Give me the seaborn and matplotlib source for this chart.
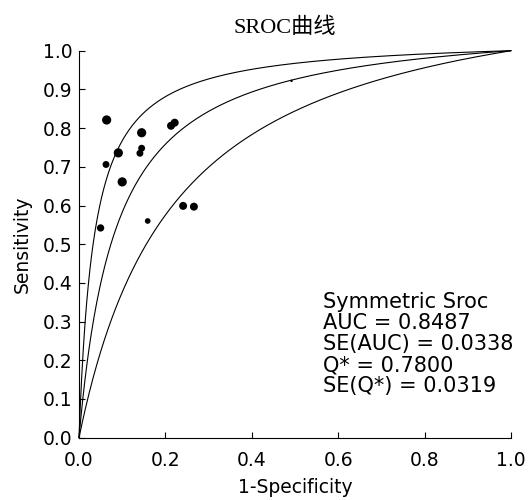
import numpy as np
import pandas as pd
import matplotlib
matplotlib.use("Agg")
import matplotlib.pyplot as plt
import seaborn as sns

# ---- data ----
fpr = [0.064, 0.145, 0.2215, 0.213, 0.091, 0.145, 0.141, 0.0625, 0.100,
       0.241, 0.266, 0.159, 0.050, 0.492]
sens = [0.821, 0.788, 0.814, 0.806, 0.736, 0.748, 0.735, 0.706, 0.661,
        0.599, 0.597, 0.560, 0.542, 0.922]
weights = [16, 16, 12, 12, 16, 9, 9, 9, 16, 12, 12, 6, 10, 1]

# SROC curve intercepts (logit(TPR) = a + logit(FPR)): lower, fitted, upper
curve_names = ["lower", "sroc", "upper"]
curve_a = [1.69, 2.53, 3.39]

x_ticks = [0.0, 0.2, 0.4, 0.6, 0.8, 1.0]
y_ticks = [0.0, 0.1, 0.2, 0.3, 0.4, 0.5, 0.6, 0.7, 0.8, 0.9, 1.0]
title = "SROC曲线"
x_label = "1-Specificity"
y_label = "Sensitivity"
stats_lines = ["Symmetric Sroc", "AUC = 0.8487", "SE(AUC) = 0.0338",
               "Q* = 0.7800", "SE(Q*) = 0.0319"]

# ---- build frames ----
pts = pd.DataFrame({"fpr": fpr, "sens": sens, "w": weights})
grid = np.concatenate([[0.0], np.linspace(1e-5, 1 - 1e-5, 800), [1.0]])
rows = []
for name, a in zip(curve_names, curve_a):
    with np.errstate(divide="ignore"):
        odds = grid / (1 - grid)
        tpr = np.where(grid >= 1, 1.0, (np.exp(a) * odds) / (1 + np.exp(a) * odds))
    for g, t in zip(grid, tpr):
        rows.append((name, g, t))
curves = pd.DataFrame(rows, columns=["curve", "fpr", "sens"])

sns.set_style("white")
plt.rcParams["font.family"] = ["DejaVu Sans"]

fig = plt.figure(figsize=(5.3, 5.0), dpi=100)
ax = fig.add_axes([79 / 530, 1 - 437.7 / 500, (511 - 79) / 530, (437.7 - 50.7) / 500])

sns.lineplot(data=curves, x="fpr", y="sens", units="curve", estimator=None,
             sort=False, color="black", linewidth=0.8, ax=ax, legend=False)
for ln in ax.lines:
    ln.set_clip_on(False)

sns.scatterplot(data=pts, x="fpr", y="sens", size="w", sizes=(3, 44),
                size_norm=(1, 16), color="black", edgecolor="none",
                ax=ax, legend=False, clip_on=False)

ax.set_xlim(0, 1)
ax.set_ylim(0, 1)
ax.set_xticks(x_ticks)
ax.set_yticks(y_ticks)
ax.set_xticklabels([f"{v:.1f}" for v in x_ticks])
ax.set_yticklabels([f"{v:.1f}" for v in y_ticks])
ax.tick_params(axis="both", direction="in", length=4.5, width=0.8,
               color="black", labelsize=13.5, labelcolor="black")
ax.tick_params(axis="x", pad=9.5)
ax.tick_params(axis="y", pad=4.5)
ax.tick_params(bottom=True, left=True)
for s in ["top", "right"]:
    ax.spines[s].set_visible(False)
for s in ["left", "bottom"]:
    ax.spines[s].set_color("black")
    ax.spines[s].set_linewidth(0.8)

ax.set_xlabel(x_label, fontsize=13.5, labelpad=6, color="black")
ax.set_ylabel(y_label, fontsize=13.5, labelpad=8, color="black")

ax.text(0.565, 0.376, "\n".join(stats_lines), transform=ax.transData,
        ha="left", va="top", fontsize=15, linespacing=1.06, color="black")

fig.text(285 / 530, 1 - 28 / 500, title, ha="center", va="center", fontsize=16,
         family=["Liberation Serif", "Noto Sans CJK SC"], color="black")

fig.savefig("out.png", dpi=100)
